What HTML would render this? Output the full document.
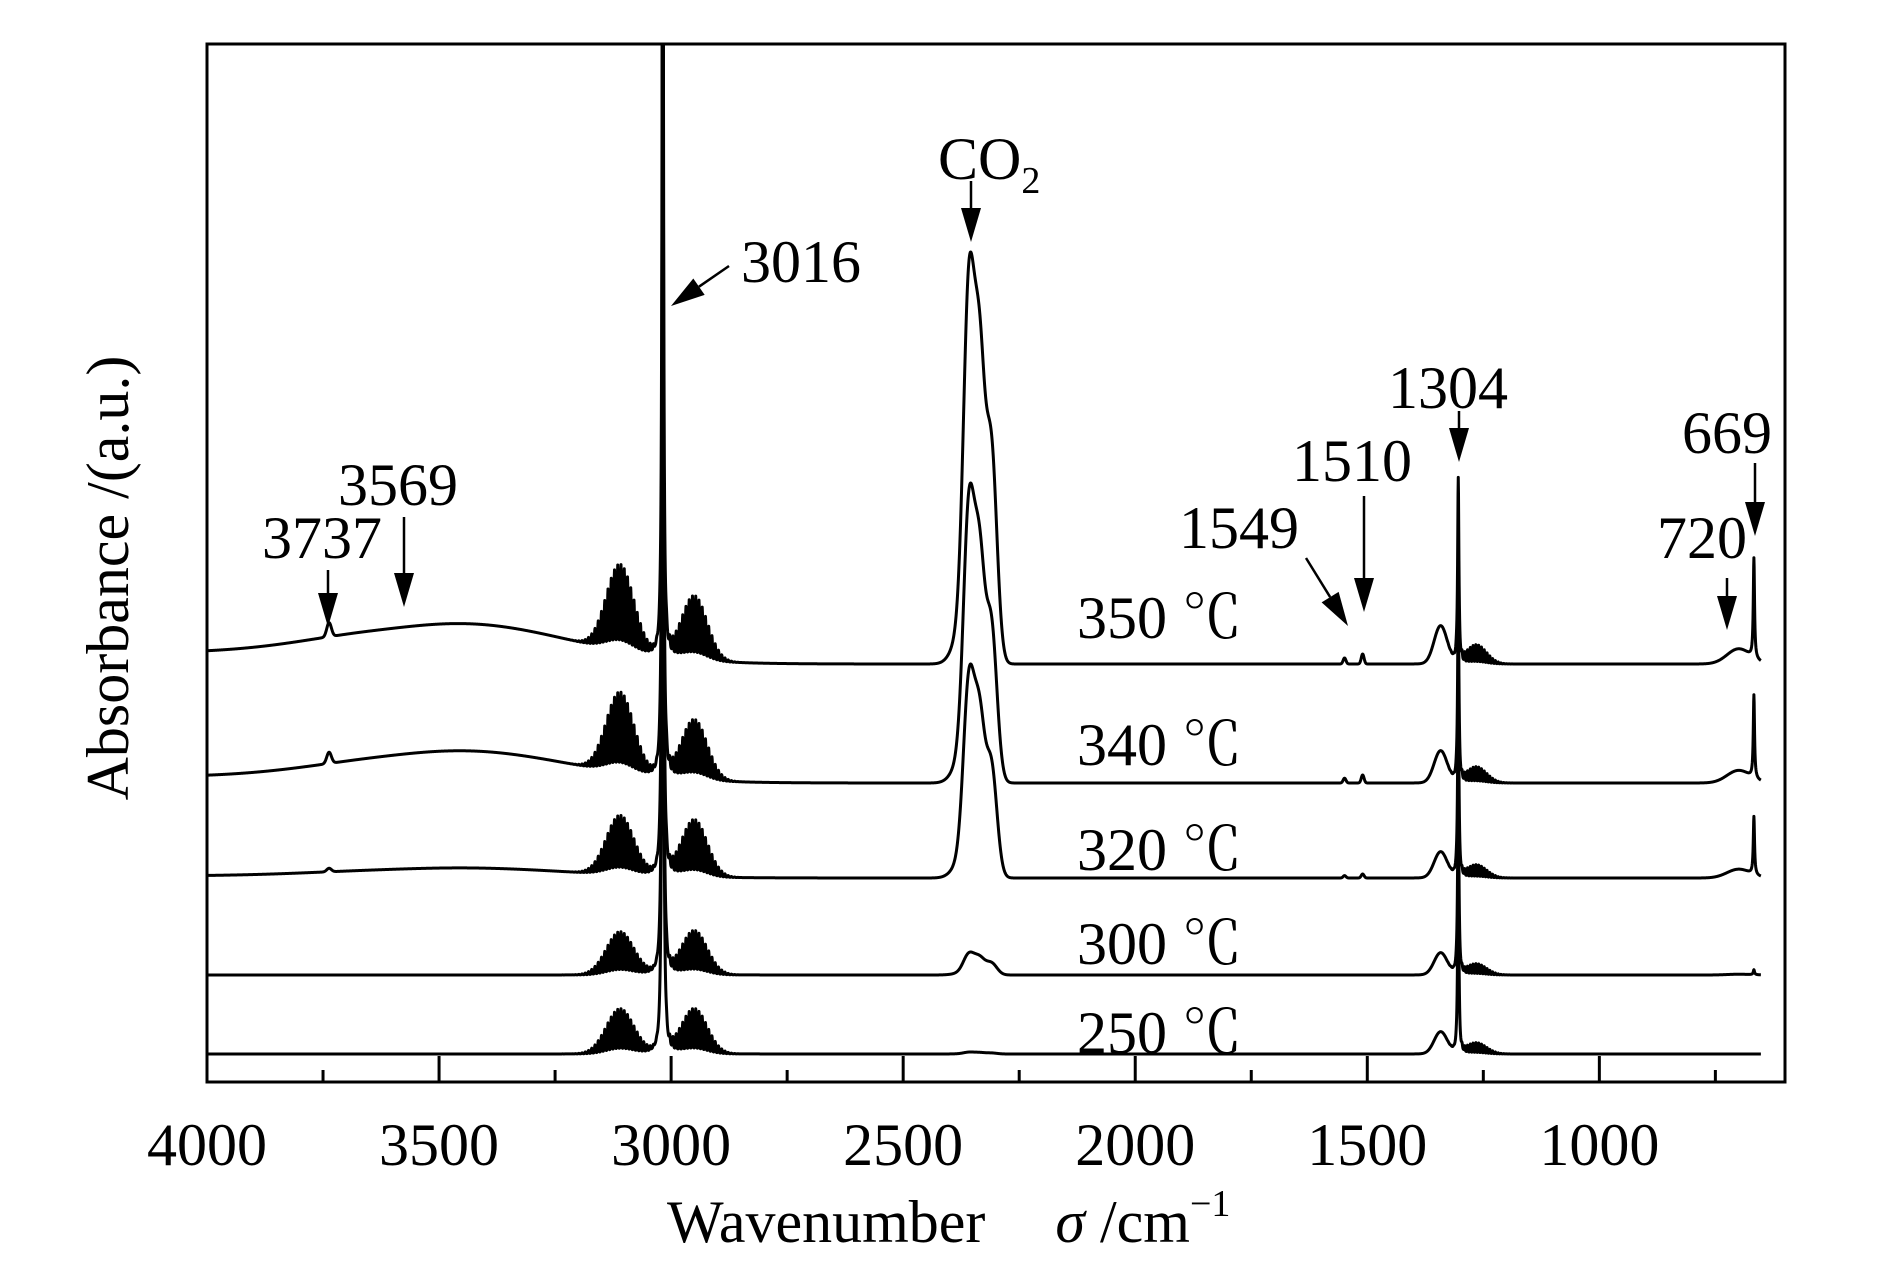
<!DOCTYPE html>
<html><head><meta charset="utf-8"><style>
html,body{margin:0;padding:0;background:#fff;}
svg{display:block;font-family:"Liberation Serif",serif;}
</style></head><body>
<svg id="chart" width="1890" height="1276" viewBox="0 0 1890 1276" xmlns="http://www.w3.org/2000/svg">
<defs>
<clipPath id="plotClip"><rect x="207" y="44" width="1578" height="1038"/></clipPath>
</defs>
<g id="spectra" clip-path="url(#plotClip)"></g>
<rect x="207" y="44" width="1578" height="1038" fill="none" stroke="#000" stroke-width="3"/>
<g id="ticks"></g>
<text x="667" y="1242" font-size="60">Wavenumber<tspan dx="70" font-style="italic">σ</tspan><tspan> /cm</tspan><tspan font-size="38" dy="-26">−1</tspan></text>
<text transform="translate(128,578) rotate(-90)" text-anchor="middle" font-size="60">Absorbance /(a.u.)</text>
<g id="annot"></g>
</svg>
<script>
// ---- data ----
const temps = ["250","300","320","340","350"];
const baselines = [0, 79, 178, 277, 401];          // offset above lowest trace (px-units)
const co2Heights = [2, 23, 214, 300, 412];
const ch4aHeights = [45, 43, 59, 80, 86];           // ~3110 band
const ch4bHeights = [45, 44, 57, 60, 64];           // ~2940 band
const peak3016Heights = [1100, 1100, 1100, 1100, 1100];
const peak1304Heights = [200, 200, 200, 195, 185];
const bump1345Heights = [22, 22, 26, 32, 38];
const ohHeights = [0, 0, 10, 32, 40];
const leftOffsets = [0, 0, -2, -6, -11];
const peak669Heights = [0, 5, 58, 83, 100];
const small1510Heights = [0, 0, 4, 8, 10];
const labelsX = ["4000","3500","3000","2500","2000","1500","1000"];
const tickValues = [4000,3500,3000,2500,2000,1500,1000];

const X0=207, X1=1785, W0=4000, W1=600, BOTTOM=1054;
function xs(w){return X0+(W0-w)*(X1-X0)/(W0-W1);}
function ys(v){return BOTTOM - v;}
const NS="http://www.w3.org/2000/svg";
function g(w,c,s){return Math.exp(-0.5*((w-c)/s)*((w-c)/s));}
function lor(w,c,s){return 1/(1+((w-c)/s)*((w-c)/s));}
function comb(w,sp){const p=Math.abs(Math.cos(Math.PI*w/sp));return 0.12+0.88*Math.pow(p,4);}
function co2Shape(w){return 0.98*g(w,2358,12)+0.75*g(w,2335,11)+0.6*g(w,2310,12)+0.1*g(w,2370,20);}
let co2Max=0;for(let w=2250;w<=2420;w+=0.5){co2Max=Math.max(co2Max,co2Shape(w));}

function value(i,w){
  let v=0;
  v+= co2Heights[i]*co2Shape(w)/co2Max;
  v+= ch4aHeights[i]*g(w,3110,30)*comb(w,7);
  v+= ch4bHeights[i]*g(w,2950,28)*comb(w,7);
  v+= peak3016Heights[i]*lor(w,3018,1.6);
  v+= peak1304Heights[i]*lor(w,1304,1.6);
  v+= bump1345Heights[i]*g(w,1342,14) + bump1345Heights[i]*0.5*g(w,1265,22)*comb(w,6);
  v+= ohHeights[i]*g(w,3450,230);
  v+= leftOffsets[i]*(1-1/(1+Math.exp(-(w-3650)/60)));
  v+= ohHeights[i]*0.35*g(w,3737,5);
  v+= peak669Heights[i]*lor(w,667,1.6) + peak669Heights[i]*0.15*g(w,700,25);
  v+= small1510Heights[i]*(g(w,1510,3)+0.6*g(w,1549,3));
  return baselines[i]+v;
}

const sp=document.getElementById('spectra');
for(let i=0;i<temps.length;i++){
  let d="";
  for(let w=4000;w>=652;w-=0.5){
    d+=(d?"L":"M")+xs(w).toFixed(2)+","+ys(value(i,w)).toFixed(2);
  }
  const p=document.createElementNS(NS,'path');
  p.setAttribute('d',d);
  p.setAttribute('fill','none');
  p.setAttribute('stroke','#000');
  p.setAttribute('stroke-width','3');
  p.setAttribute('stroke-linejoin','round');
  
  
  sp.appendChild(p);
}

const tk=document.getElementById('ticks');
for(let w=4000;w>=600;w-=250){
  const major=(w%500===0);
  const l=document.createElementNS(NS,'line');
  l.setAttribute('x1',xs(w));l.setAttribute('x2',xs(w));
  l.setAttribute('y1',1082);l.setAttribute('y2',major?1056:1070);
  l.setAttribute('stroke','#000');l.setAttribute('stroke-width','3');
  
  
  tk.appendChild(l);
}
tickValues.forEach((w,k)=>{
  const t=document.createElementNS(NS,'text');
  t.setAttribute('x',xs(w));t.setAttribute('y',1165);
  t.setAttribute('text-anchor','middle');t.setAttribute('font-size','60');
  t.textContent=labelsX[k];
  
  
  tk.appendChild(t);
});

const an=document.getElementById('annot');
function txt(x,y,s,name){
  const t=document.createElementNS(NS,'text');
  t.setAttribute('x',x);t.setAttribute('y',y);t.setAttribute('font-size','60');
  t.textContent=s;
  
  
  an.appendChild(t);return t;
}
function arrow(x1,y1,x2,y2,name){
  const dx=x2-x1,dy=y2-y1,L=Math.hypot(dx,dy),ux=dx/L,uy=dy/L,hl=34,hw=10;
  const bx=x2-ux*hl,by=y2-uy*hl;
  const l=document.createElementNS(NS,'line');
  l.setAttribute('x1',x1);l.setAttribute('y1',y1);l.setAttribute('x2',bx);l.setAttribute('y2',by);
  l.setAttribute('stroke','#000');l.setAttribute('stroke-width','2.5');
  
  
  an.appendChild(l);
  const p=document.createElementNS(NS,'polygon');
  p.setAttribute('points',`${x2},${y2} ${bx-uy*hw},${by+ux*hw} ${bx+uy*hw},${by-ux*hw}`);
  p.setAttribute('fill','#000');
  
  
  an.appendChild(p);
}
const co=txt(938,179,"CO","co2-label");
const sub=document.createElementNS(NS,'tspan');sub.setAttribute('font-size','38');sub.setAttribute('dy','14');sub.textContent="2";co.appendChild(sub);
arrow(971,181,971,242,"co2-arrow");
txt(741,282,"3016","label-3016");arrow(729,266,671,306,"arrow-3016");
txt(1388,408,"1304","label-1304");arrow(1459,411,1459,462,"arrow-1304");
txt(1292,481,"1510","label-1510");arrow(1364,496,1364,612,"arrow-1510");
txt(1179,548,"1549","label-1549");arrow(1306,558,1348,626,"arrow-1549");
txt(1682,453,"669","label-669");arrow(1755,463,1755,536,"arrow-669");
txt(1657,558,"720","label-720");arrow(1727,578,1727,630,"arrow-720");
txt(338,505,"3569","label-3569");arrow(404,517,404,607,"arrow-3569");
txt(262,558,"3737","label-3737");arrow(328,570,328,627,"arrow-3737");
const tY=[1053,964,870,765,638];
for(let i=0;i<temps.length;i++){
  const t=txt(1077,tY[i],temps[i]+" ",'temp-label-'+temps[i]);
  const c=document.createElementNS(NS,'tspan');
  c.setAttribute('font-family','"Noto Serif CJK SC","Liberation Serif",serif');
  c.textContent="℃";
  t.appendChild(c);
}
</script>
</body></html>
